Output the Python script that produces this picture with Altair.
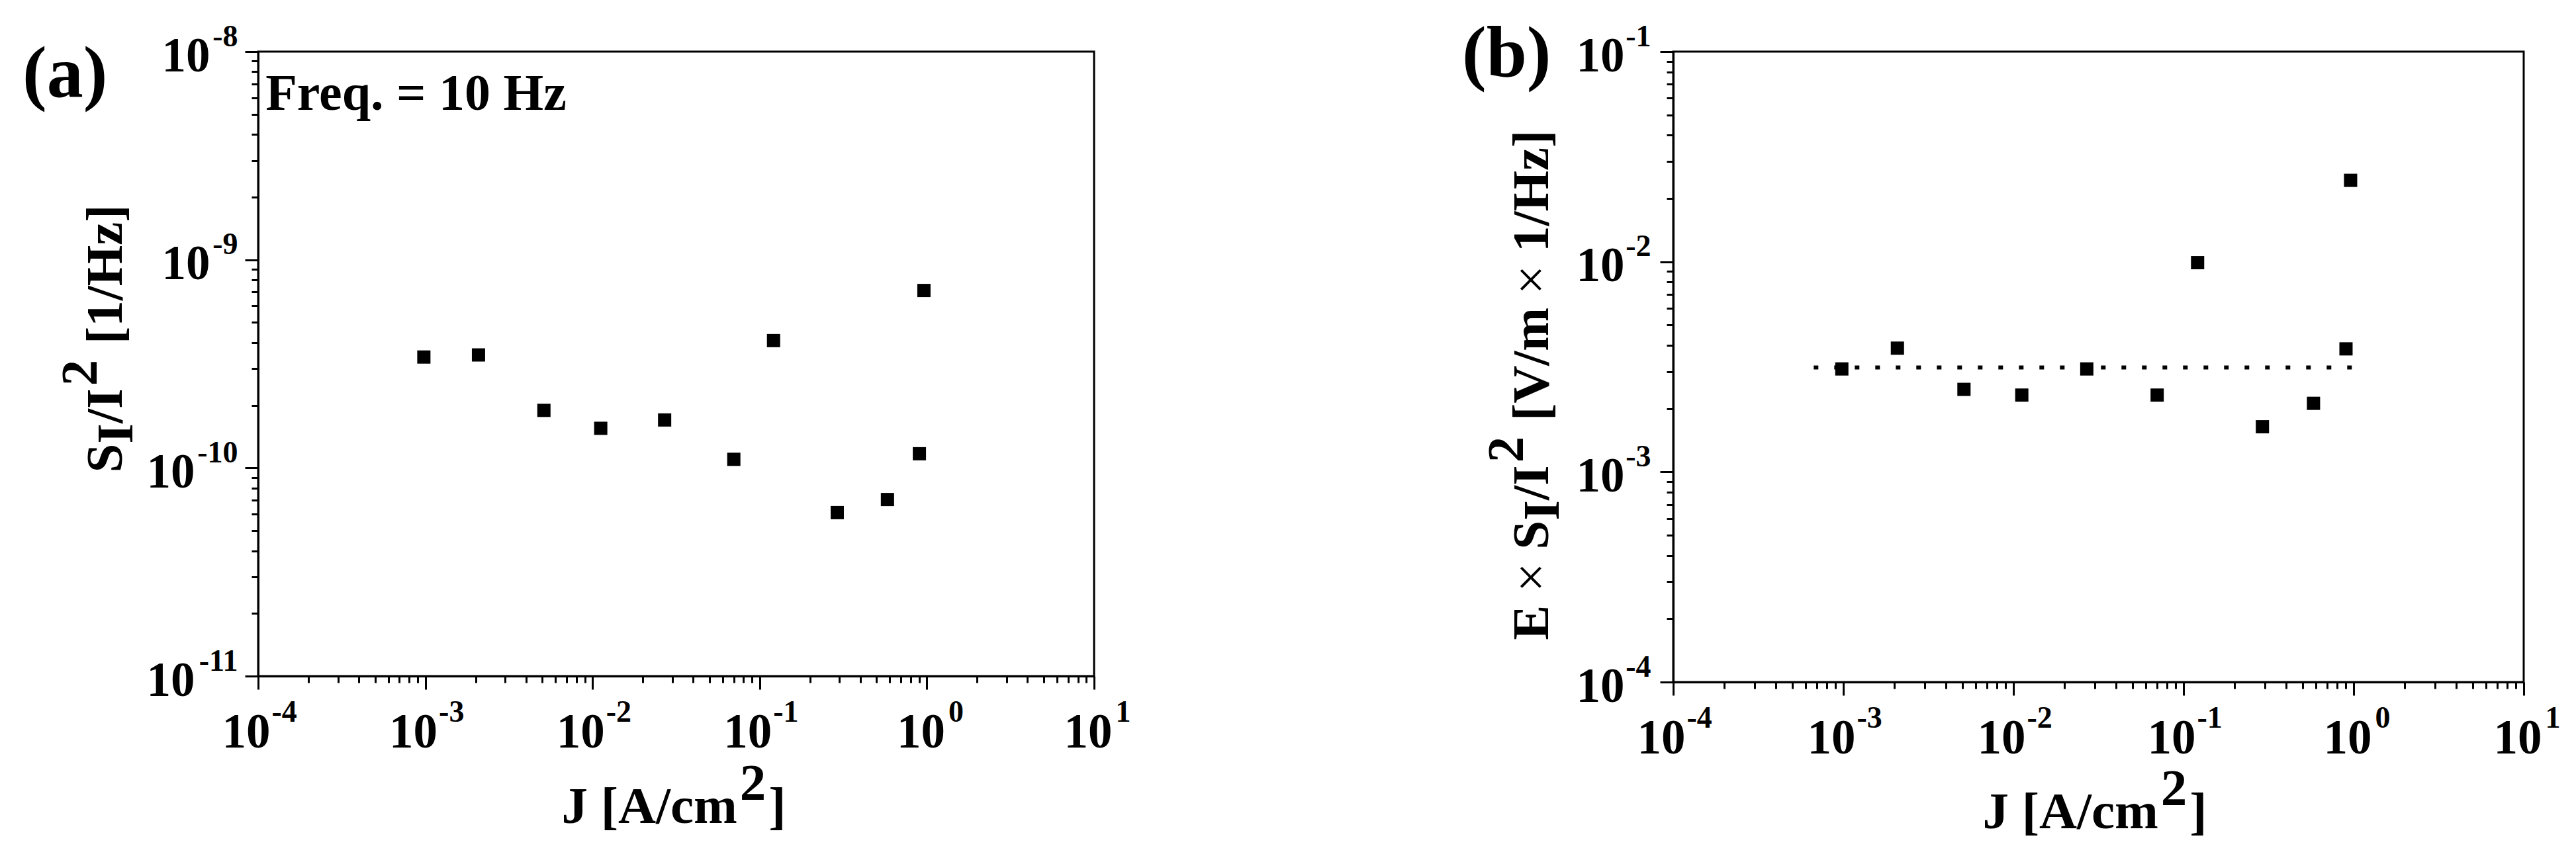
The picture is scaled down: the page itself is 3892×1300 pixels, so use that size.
import altair as alt
import pandas as pd

# ---------------- data ----------------
J = [0.00098, 0.00208, 0.00512, 0.0112, 0.027, 0.070, 0.121, 0.291, 0.581, 0.902, 0.960]
S_over_I2 = [3.41e-10, 3.49e-10, 1.89e-10, 1.55e-10, 1.70e-10, 1.10e-10, 4.09e-10,
             6.1e-11, 7.05e-11, 1.17e-10, 7.12e-10]
E_S_over_I2 = [3.09e-3, 3.88e-3, 2.47e-3, 2.32e-3, 3.09e-3, 2.32e-3, 9.9e-3,
               1.64e-3, 2.12e-3, 3.85e-3, 2.44e-2]
fit_J = [6.7e-4, 1.13]
fit_val = [3.14e-3, 3.14e-3]

freq_label = ["Freq. = 10 Hz"]
freq_J = [1.107e-4]
freq_val = [5.24e-9]

x_ticks = [1e-4, 1e-3, 1e-2, 1e-1, 1.0, 10.0]
x_tick_exps = ["-4", "-3", "-2", "-1", "0", "1"]
ya_ticks = [1e-11, 1e-10, 1e-9, 1e-8]
ya_tick_exps = ["-11", "-10", "-9", "-8"]
yb_ticks = [1e-4, 1e-3, 1e-2, 1e-1]
yb_tick_exps = ["-4", "-3", "-2", "-1"]
tick_base = "10"
minor_mults = [2, 3, 4, 5, 6, 7, 8, 9]

# axis titles as (text, style) pieces: style n = normal, sub = subscript, sup = superscript,
# thin = regular weight
x_title = [("J [A/cm", "n"), ("2", "sup"), ("]", "n")]
ya_title = [("S", "n"), ("I", "sub"), ("/I", "n"), ("2", "sup"), (" [1/Hz]", "n")]
yb_title = [("E ", "n"), ("×", "thin"), (" S", "n"), ("I", "sub"), ("/I", "n"), ("2", "sup"),
            (" [V/m ", "n"), ("×", "thin"), (" 1/Hz]", "n")]
panel_labels = ["(a)", "(b)"]

# ---------------- helpers ----------------
FONT = "Liberation Serif"
TSIZE = 79
GAP = 4  # small extra room around superscripts
# Times / Liberation Serif advance widths (em)
W_BOLD = {"S": .556, "I": .389, "/": .278, "2": .5, " ": .25, "[": .333, "1": .5, "H": .778,
          "z": .444, "]": .333, "J": .5, "A": .722, "c": .444, "m": .833, "E": .667,
          "V": .722, "×": .570}
W_REG = {"×": .564}


def text_width(s, style):
    table = W_REG if style == "thin" else W_BOLD
    w = sum(table[ch] for ch in s) * TSIZE
    return w + (2 * GAP if style == "sup" else 0)


def piece_chart(txt, x, y, angle, weight):
    return alt.Chart(pd.DataFrame({"t": [txt]})).mark_text(
        align="left", baseline="alphabetic", font=FONT, fontSize=TSIZE,
        fontWeight=weight, color="black", angle=angle,
    ).encode(x=alt.value(x), y=alt.value(y), text="t:N")


SHIFT = {"n": 0, "thin": 0, "sub": 16, "sup": -38}


def h_title(pieces, cx, by, raise_=35):
    total = sum(text_width(t, s) for t, s in pieces)
    x = cx - total / 2
    out = []
    for t, s in pieces:
        w = text_width(t, s)
        lead = len(t) - len(t.lstrip(" "))
        body = t.strip(" ")
        if body:
            dy = -raise_ if s == "sup" else (SHIFT[s] if s == "sub" else 0)
            px = x + lead * W_BOLD[" "] * TSIZE + (GAP if s == "sup" else 0)
            out.append(piece_chart(body, px, by + dy, 0,
                                   "normal" if s == "thin" else "bold"))
        x += w
    return out


def v_title(pieces, bx, cy):
    total = sum(text_width(t, s) for t, s in pieces)
    y = cy + total / 2
    out = []
    for t, s in pieces:
        w = text_width(t, s)
        lead = len(t) - len(t.lstrip(" "))
        body = t.strip(" ")
        if body:
            py = y - lead * W_BOLD[" "] * TSIZE - (GAP if s == "sup" else 0)
            out.append(piece_chart(body, bx + SHIFT[s], py, 270,
                                   "normal" if s == "thin" else "bold"))
        y -= w
    return out


def minors(majors):
    return [m * t for t in majors[:-1] for m in minor_mults]


def exp_expr(ticks, exps):
    expr = "''"
    for t, e in reversed(list(zip(ticks, exps))):
        expr = f"abs(datum.value/{t!r} - 1) < 1e-6 ? '{e}' : {expr}"
    return expr


def x_axes():
    main = alt.Axis(orient="bottom", values=x_ticks, tickSize=20, tickWidth=3,
                    tickColor="black", domainWidth=3, domainColor="black", grid=False,
                    labelExpr=f"'{tick_base}'", labelFont=FONT, labelFontSize=73,
                    labelFontWeight="bold", labelColor="black", labelAlign="right",
                    labelBaseline="alphabetic", labelPadding=87,
                    labelOffset={"condition": {"test": "datum.value >= 1", "value": 27}, "value": 18},
                    labelFlush=False, labelOverlap=False, labelBound=False, title=None)
    minor = alt.Axis(orient="bottom", values=minors(x_ticks), tickSize=10, tickWidth=3,
                     tickColor="black", domain=False, labels=False, grid=False, title=None)
    exps = alt.Axis(orient="bottom", values=x_ticks, ticks=False, tickSize=0, domain=False,
                    grid=False, labelExpr=exp_expr(x_ticks, x_tick_exps), labelFont=FONT,
                    labelFontSize=46, labelFontWeight="bold", labelColor="black",
                    labelAlign="left", labelBaseline="alphabetic", labelPadding=68,
                    labelOffset={"condition": {"test": "datum.value >= 1", "value": 32}, "value": 20},
                    labelFlush=False, labelOverlap=False, labelBound=False, title=None)
    return main, minor, exps


def y_axes(ticks, exps_list, base_pad, exp_pad):
    main = alt.Axis(orient="left", values=ticks, tickSize=20, tickWidth=3,
                    tickColor="black", domainWidth=3, domainColor="black", grid=False,
                    labelExpr=f"'{tick_base}'", labelFont=FONT, labelFontSize=73,
                    labelFontWeight="bold", labelColor="black", labelAlign="right",
                    labelBaseline="alphabetic", labelPadding=base_pad, labelOffset=29,
                    labelFlush=False, labelOverlap=False, labelBound=False, title=None)
    minor = alt.Axis(orient="left", values=minors(ticks), tickSize=10, tickWidth=3,
                     tickColor="black", domain=False, labels=False, grid=False, title=None)
    exps = alt.Axis(orient="left", values=ticks, ticks=False, tickSize=0, domain=False,
                    grid=False, labelExpr=exp_expr(ticks, exps_list), labelFont=FONT,
                    labelFontSize=46, labelFontWeight="bold", labelColor="black",
                    labelAlign="right", labelBaseline="alphabetic", labelPadding=exp_pad,
                    labelOffset=-9, labelFlush=False, labelOverlap=False, labelBound=False,
                    title=None)
    return main, minor, exps


xscale = alt.Scale(type="log", domain=[1e-4, 10], nice=False)


def panel(df, yscale, xax, yax, width, height, label, label_dx, label_dy, extra):
    base = alt.Chart(df)
    pts = base.mark_square(size=400, color="black", opacity=1).encode(
        x=alt.X("J:Q", scale=xscale, axis=xax[0]),
        y=alt.Y("V:Q", scale=yscale, axis=yax[0]),
    )
    minor_layer = base.mark_point(opacity=0).encode(
        x=alt.X("J:Q", scale=xscale, axis=xax[1]),
        y=alt.Y("V:Q", scale=yscale, axis=yax[1]),
    )
    exp_layer = base.mark_point(opacity=0).encode(
        x=alt.X("J:Q", scale=xscale, axis=xax[2]),
        y=alt.Y("V:Q", scale=yscale, axis=yax[2]),
    )
    lab = alt.Chart(pd.DataFrame({"t": [label]})).mark_text(
        align="left", baseline="alphabetic", font=FONT, fontSize=110,
        fontWeight="bold", color="black",
    ).encode(x=alt.value(label_dx), y=alt.value(label_dy), text="t:N")
    layers = [pts, minor_layer, exp_layer] + extra + [lab]
    return alt.layer(*layers).resolve_axis(x="independent", y="independent").properties(
        width=width, height=height,
    )


# ---------------- panel (a) ----------------
A_W, A_H = 1263, 944
df_a = pd.DataFrame({"J": J, "V": S_over_I2})
ys_a = alt.Scale(type="log", domain=[1e-11, 1e-8], nice=False)
freq_df = pd.DataFrame({"J": freq_J, "V": freq_val, "t": freq_label})
freq_text = alt.Chart(freq_df).mark_text(
    align="left", baseline="alphabetic", font=FONT, fontSize=78, fontWeight="bold", color="black"
).encode(
    x=alt.X("J:Q", scale=xscale, axis=None),
    y=alt.Y("V:Q", scale=ys_a, axis=None),
    text="t:N",
)
ya_main_pad = {"condition": {"test": "datum.value < 3e-10", "value": 76}, "value": 53}
titles_a = h_title(x_title, 628, A_H + 222) + v_title(ya_title, -206, 434)
panel_a = panel(
    df_a, ys_a, x_axes(),
    y_axes(ya_ticks, ya_tick_exps, ya_main_pad, 31),
    A_W, A_H, panel_labels[0], -356, 68, [freq_text] + titles_a,
)

# ---------------- panel (b) ----------------
B_W, B_H = 1285, 953
df_b = pd.DataFrame({"J": J, "V": E_S_over_I2})
ys_b = alt.Scale(type="log", domain=[1e-4, 1e-1], nice=False)
fit_df = pd.DataFrame({"J": fit_J, "V": fit_val})
fit_line = alt.Chart(fit_df).mark_line(
    color="black", strokeWidth=6, strokeDash=[7, 24], strokeCap="butt"
).encode(
    x=alt.X("J:Q", scale=xscale, axis=None),
    y=alt.Y("V:Q", scale=ys_b, axis=None),
)
titles_b = h_title(x_title, 637, B_H + 221) + v_title(yb_title, -189, 504)
panel_b = panel(
    df_b, ys_b, x_axes(),
    y_axes(yb_ticks, yb_tick_exps, 54, 34),
    B_W, B_H, panel_labels[1], -319, 38, [fit_line] + titles_b,
)

chart = alt.hconcat(panel_a, panel_b, spacing=497).properties(
    padding={"left": 24, "top": 18, "right": 0, "bottom": 0},
    background="white",
).configure_view(stroke="black", strokeWidth=3)

chart.save("out.html", embed_options={"renderer": "svg", "actions": False})
